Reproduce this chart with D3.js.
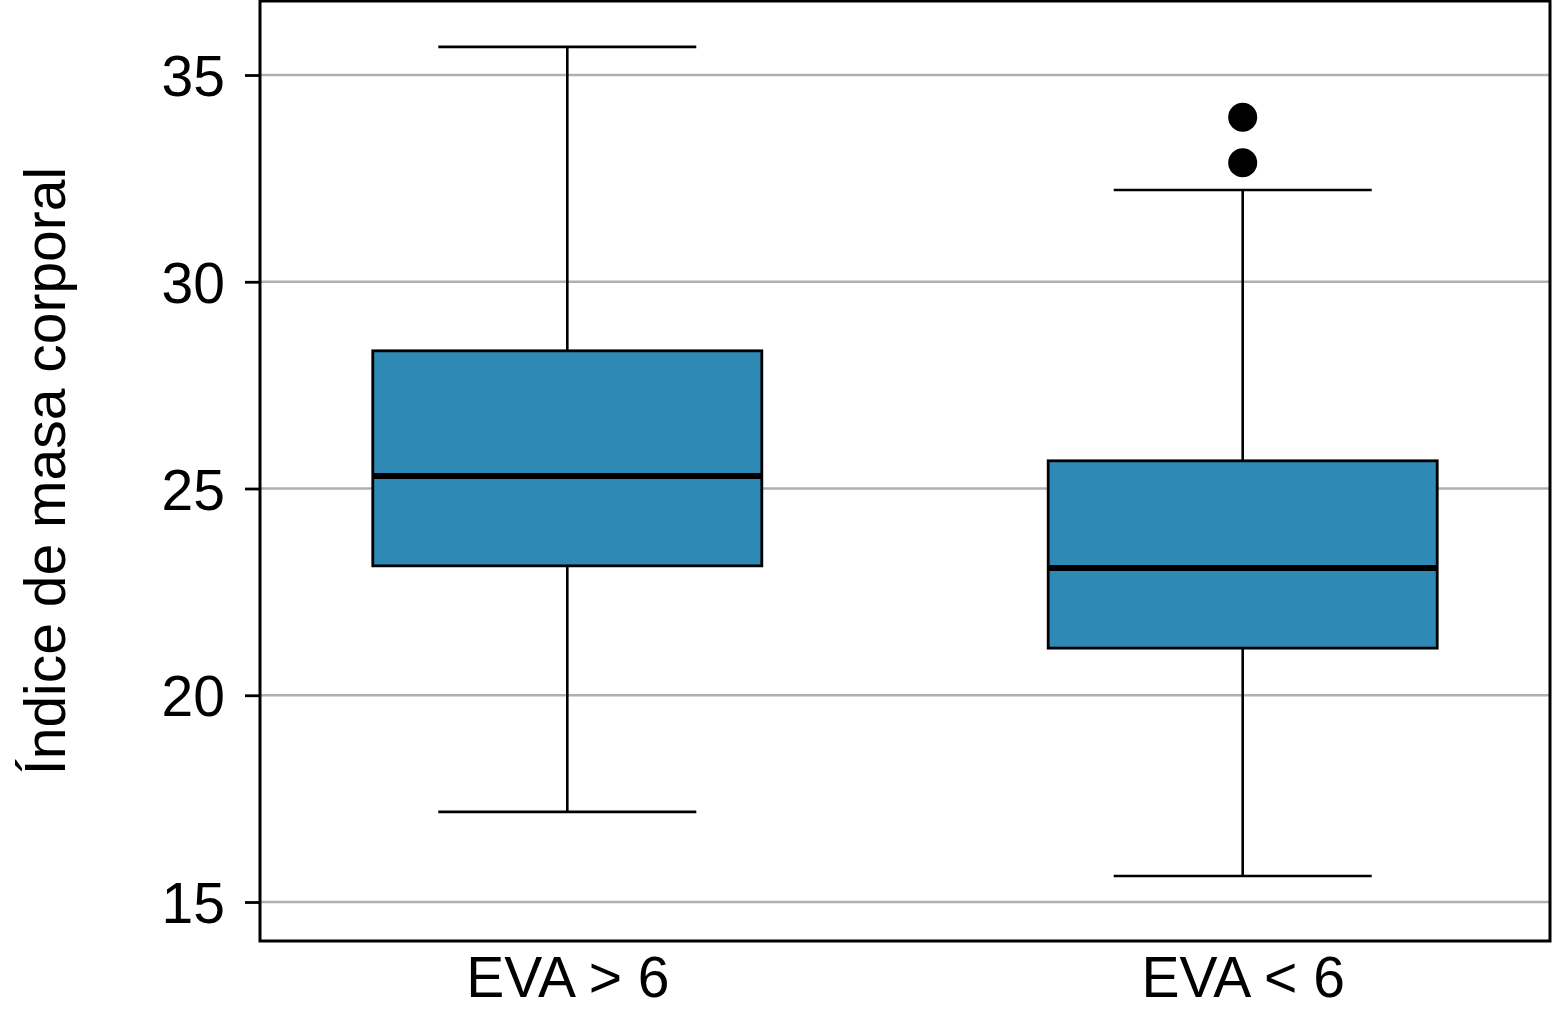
<!DOCTYPE html>
<html>
<head>
<meta charset="utf-8">
<script src="https://cdn.jsdelivr.net/npm/d3@7"></script>
<style>
    body { margin: 0; background: #fff; }
    text { font-family: "Liberation Sans", Arial, sans-serif; }
</style>
</head>
<body>
<div id="bmi-box"></div>
<script>
// values
var categories = ["EVA > 6", "EVA < 6"];
var whiskerLow = [17.18, 15.63];
var q1 = [23.13, 21.14];
var median = [25.30, 23.08];
var q3 = [28.33, 25.67];
var whiskerHigh = [35.68, 32.22];
var outliers = [[], [33.98, 32.88]];
var yTicks = [15, 20, 25, 30, 35];

bmi_box_graph()

function bmi_box_graph() {
    var margin = { top: 1, right: 3, bottom: 83, left: 260 },
        width = 1553 - margin.left - margin.right,
        height = 1024 - margin.top - margin.bottom;

    var svg = d3.select("#bmi-box").append("svg")
        .attr("width", width + margin.left + margin.right)
        .attr("height", height + margin.top + margin.bottom)
        .append("g")
        .attr("transform", "translate(" + margin.left + "," + margin.top + ")");

    var x = d3.scalePoint()
        .domain(categories)
        .range([0, width])
        .padding(0.455);
    var y = d3.scaleLinear()
        .domain([14.057, 36.79])
        .range([height, 0]);

    var boxWidth = x.step() * 0.576,
        capWidth = x.step() * 0.382;

    // horizontal grid lines
    svg.selectAll(".grid")
        .data(yTicks)
        .enter().append("line")
        .attr("class", "grid")
        .attr("x1", 0)
        .attr("x2", width)
        .attr("y1", function (d) { return y(d); })
        .attr("y2", function (d) { return y(d); })
        .attr("stroke", "#b0b0b0")
        .attr("stroke-width", 2.5);

    var data = categories.map(function (c, i) {
        return {
            name: c, lo: whiskerLow[i], q1: q1[i], med: median[i],
            q3: q3[i], hi: whiskerHigh[i], out: outliers[i]
        };
    });

    var g = svg.selectAll(".box")
        .data(data)
        .enter().append("g")
        .attr("class", "box")
        .attr("transform", function (d) { return "translate(" + x(d.name) + ",0)"; });

    // whiskers
    g.append("line")
        .attr("y1", function (d) { return y(d.hi); })
        .attr("y2", function (d) { return y(d.q3); })
        .attr("stroke", "black").attr("stroke-width", 2.6);
    g.append("line")
        .attr("y1", function (d) { return y(d.q1); })
        .attr("y2", function (d) { return y(d.lo); })
        .attr("stroke", "black").attr("stroke-width", 2.6);

    // caps
    g.append("line")
        .attr("x1", -capWidth / 2).attr("x2", capWidth / 2)
        .attr("y1", function (d) { return y(d.hi); })
        .attr("y2", function (d) { return y(d.hi); })
        .attr("stroke", "black").attr("stroke-width", 2.6);
    g.append("line")
        .attr("x1", -capWidth / 2).attr("x2", capWidth / 2)
        .attr("y1", function (d) { return y(d.lo); })
        .attr("y2", function (d) { return y(d.lo); })
        .attr("stroke", "black").attr("stroke-width", 2.6);

    // boxes
    g.append("rect")
        .attr("x", -boxWidth / 2)
        .attr("width", boxWidth)
        .attr("y", function (d) { return y(d.q3); })
        .attr("height", function (d) { return y(d.q1) - y(d.q3); })
        .attr("fill", "#2e89b5")
        .attr("stroke", "black")
        .attr("stroke-width", 2.8);

    // medians
    g.append("line")
        .attr("x1", -boxWidth / 2).attr("x2", boxWidth / 2)
        .attr("y1", function (d) { return y(d.med); })
        .attr("y2", function (d) { return y(d.med); })
        .attr("stroke", "black").attr("stroke-width", 6);

    // outliers
    g.selectAll(".out")
        .data(function (d) { return d.out; })
        .enter().append("circle")
        .attr("class", "out")
        .attr("cx", 0)
        .attr("cy", function (d) { return y(d); })
        .attr("r", 14.5)
        .attr("fill", "black");

    // frame
    svg.append("rect")
        .attr("width", width)
        .attr("height", height)
        .attr("fill", "none")
        .attr("stroke", "black")
        .attr("stroke-width", 3);

    // y axis
    var yAxis = svg.append("g")
        .call(d3.axisLeft(y).tickValues(yTicks).tickSize(15).tickPadding(20));
    yAxis.select(".domain").remove();
    yAxis.selectAll("line").attr("stroke-width", 2.8);
    yAxis.selectAll("text").style("font-size", "57px").attr("dy", "0.36em");

    // x axis
    var xAxis = svg.append("g")
        .attr("transform", "translate(0," + height + ")")
        .call(d3.axisBottom(x).tickSize(0).tickPadding(16));
    xAxis.select(".domain").remove();
    xAxis.selectAll("text").style("font-size", "57px");

    // y label
    svg.append("text")
        .attr("transform", "translate(" + (-195) + "," + (height / 2) + ")rotate(-90)")
        .attr("text-anchor", "middle")
        .style("font-size", "57px")
        .text("Índice de masa corporal");
}
</script>
</body>
</html>
